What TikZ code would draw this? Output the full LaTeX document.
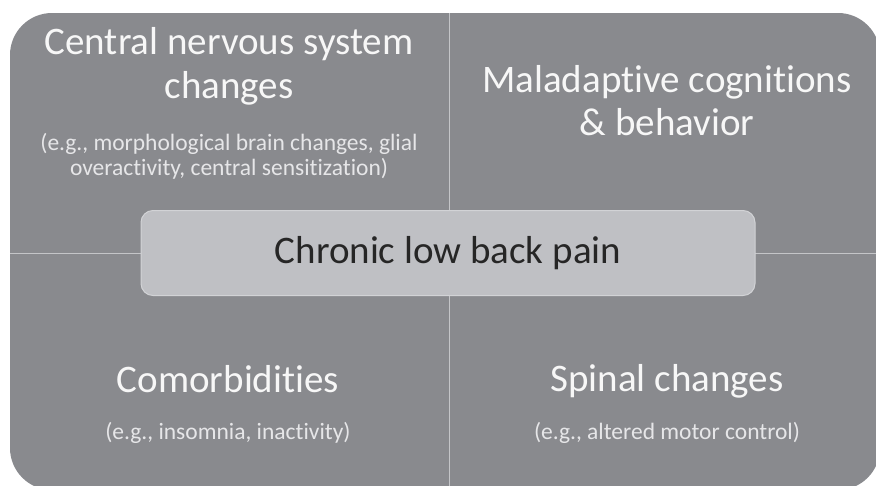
\documentclass[tikz,border=0pt]{standalone}
\usepackage{fontspec}
\setmainfont{Carlito}[Ligatures=NoCommon]
\definecolor{panelgray}{HTML}{898A8E}
\definecolor{linegray}{HTML}{C4C5C8}
\definecolor{coregray}{HTML}{BFC0C4}
\definecolor{coreedge}{HTML}{D2D3D6}
\definecolor{headtext}{HTML}{F7F7F7}
\definecolor{subtext}{HTML}{E6E6E8}
\tikzset{
  headline/.style={text=headtext, align=center, font=\fontsize{39}{44}\selectfont},
  subline/.style={text=subtext, align=center, font=\fontsize{23.5}{25}\selectfont},
  corebox/.style={draw=coreedge, line width=1pt, fill=coregray, rounded corners=12pt,
    minimum width=614pt, minimum height=85pt, font=\fontsize{39}{40}\selectfont, text=black!85}
}
\begin{document}
\begin{tikzpicture}[x=1pt, y=1pt]
    \useasboundingbox (0,0) rectangle (876,-485);
    % grosse Flaeche
    \fill[panelgray, rounded corners=42pt] (10,-13) rectangle (880,-490);
    
    % Trennlinien der vier Felder
    \draw[linegray, line width=1pt] (449,-13) -- (449,-490);
    \draw[linegray, line width=1pt] (10,-253) -- (880,-253);
    
    % Mitte
    \node[corebox] (core) at (448,-253) {Chronic low back pain};
    
    % oben links
    \node[headline, anchor=base] (cns) at (229,-98) {Central nervous system\\changes};
    \node[subline, anchor=base] (cnsex) at (229,-175) {(e.g., morphological brain changes, glial\\overactivity, central sensitization)};
    
    % oben rechts
    \node[headline, anchor=base, font=\fontsize{39}{43}\selectfont] (mal) at (667,-135) {Maladaptive cognitions\\\& behavior};
    
    % unten links
    \node[headline, anchor=base] (com) at (228,-392) {Comorbidities};
    \node[subline, anchor=base] (comex) at (228,-439) {(e.g., insomnia, inactivity)};
    
    % unten rechts
    \node[headline, anchor=base] (spi) at (667,-391) {Spinal changes};
    \node[subline, anchor=base] (spiex) at (667,-439) {(e.g., altered motor control)};
\end{tikzpicture}
\end{document}
